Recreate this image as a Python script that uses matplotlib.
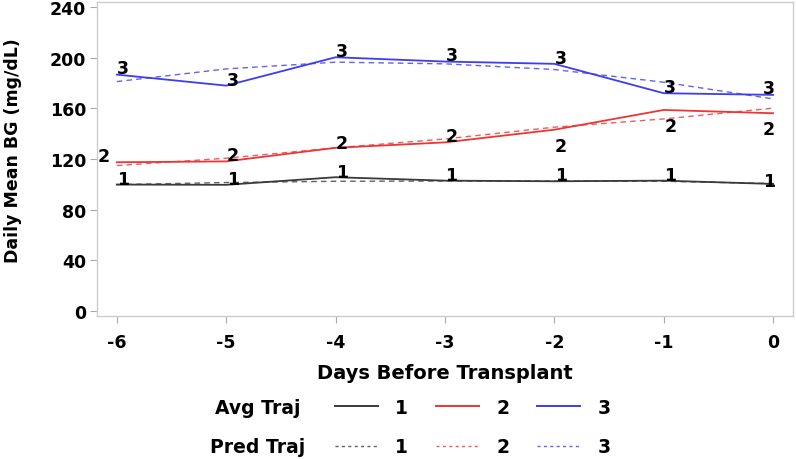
import matplotlib
matplotlib.use("Agg")
import matplotlib.pyplot as plt
from matplotlib.lines import Line2D

plt.rcParams['font.family'] = ['DejaVu Sans']
plt.rcParams['font.weight'] = 'bold'
plt.rcParams['axes.unicode_minus'] = False

# days before transplant
days = [-6, -5, -4, -3, -2, -1, 0]

# average trajectories (solid)
avg_1 = [99.7, 99.5, 105.5, 102.8, 102.3, 102.8, 100.2]
avg_2 = [117.3, 118.0, 128.7, 133.0, 143.0, 158.6, 156.0]
avg_3 = [186.5, 177.8, 200.2, 196.8, 195.0, 171.8, 170.5]

# predicted trajectories (dashed)
pred_1 = [99.7, 101.3, 102.3, 102.5, 102.5, 102.3, 100.5]
pred_2 = [114.7, 120.5, 128.7, 135.7, 145.0, 151.5, 160.0]
pred_3 = [181.0, 191.0, 196.3, 195.0, 190.5, 180.5, 167.3]

# group number markers
mark_1 = [104.2, 104.2, 109.7, 107.3, 107.3, 107.3, 102.6]
mark_2 = [122.3, 123.1, 132.6, 138.1, 130.2, 146.0, 143.6]
mark_3 = [191.6, 182.3, 205.2, 202.0, 199.7, 176.8, 176.0]

groups = ['1', '2', '3']
colors = ['#3a3a3a', '#ee3434', '#3c3cf0']

fig = plt.figure(figsize=(7.96, 4.6), dpi=100)
ax = fig.add_axes([0.122, 0.311, 0.874, 0.683])

avgs = [avg_1, avg_2, avg_3]
preds = [pred_1, pred_2, pred_3]
marks = [mark_1, mark_2, mark_3]
for g, c, a, p, m in zip(groups, colors, avgs, preds, marks):
    ax.plot(days, a, color=c, lw=1.3)
    ax.plot(days, p, color=c, lw=1.0, ls=(0, (4, 3)), alpha=0.8)
    for d, v in zip(days, m):
        dx = 0.06
        if d == 0:
            dx = -0.04
        if g == '2' and d == -6:
            dx = -0.12
        ax.text(d + dx, v, g, ha='center', va='center', fontsize=12.5,
                fontweight='bold', color='black')

ax.set_xlim(-6.18, 0.18)
ax.set_ylim(-4, 244)
ax.set_xticks(days)
ax.set_yticks([0, 40, 80, 120, 160, 200, 240])
ax.tick_params(axis='both', labelsize=12.5, color='#aaaaaa', length=5, width=0.8)
ax.tick_params(axis='x', pad=7)
ax.tick_params(axis='y', pad=3)
for s in ax.spines.values():
    s.set_color('#cccccc')
    s.set_linewidth(1)
for lab in ax.get_xticklabels() + ax.get_yticklabels():
    lab.set_fontweight('bold')

ax.set_xlabel('Days Before Transplant', fontsize=14, fontweight='bold', labelpad=9)
ax.set_ylabel('Daily Mean BG (mg/dL)', fontsize=12.5, fontweight='bold')
ax.yaxis.set_label_coords(-0.108, 0.53)

# legend rows
avg_handles = [Line2D([], [], color=c, lw=1.4) for c in colors]
pred_handles = [Line2D([], [], color=c, lw=1.0, ls=(0, (2.2, 2.4)), alpha=0.8) for c in colors]
rows = [(avg_handles, 0.113, 'Avg Traj', 0.378), (pred_handles, 0.027, 'Pred Traj', 0.384)]
for handles, yrow, name, xname in rows:
    leg = fig.legend(handles, groups, ncol=3, frameon=False, loc='center left',
                     bbox_to_anchor=(0.421, yrow), fontsize=13.5, handlelength=2.3,
                     columnspacing=1.5, handletextpad=0.9, borderpad=0,
                     borderaxespad=0)
    for t in leg.get_texts():
        t.set_fontweight('bold')
    fig.text(xname, yrow, name, ha='right', va='center', fontsize=13.5, fontweight='bold')

fig.savefig('out.png', dpi=100, facecolor='white')
